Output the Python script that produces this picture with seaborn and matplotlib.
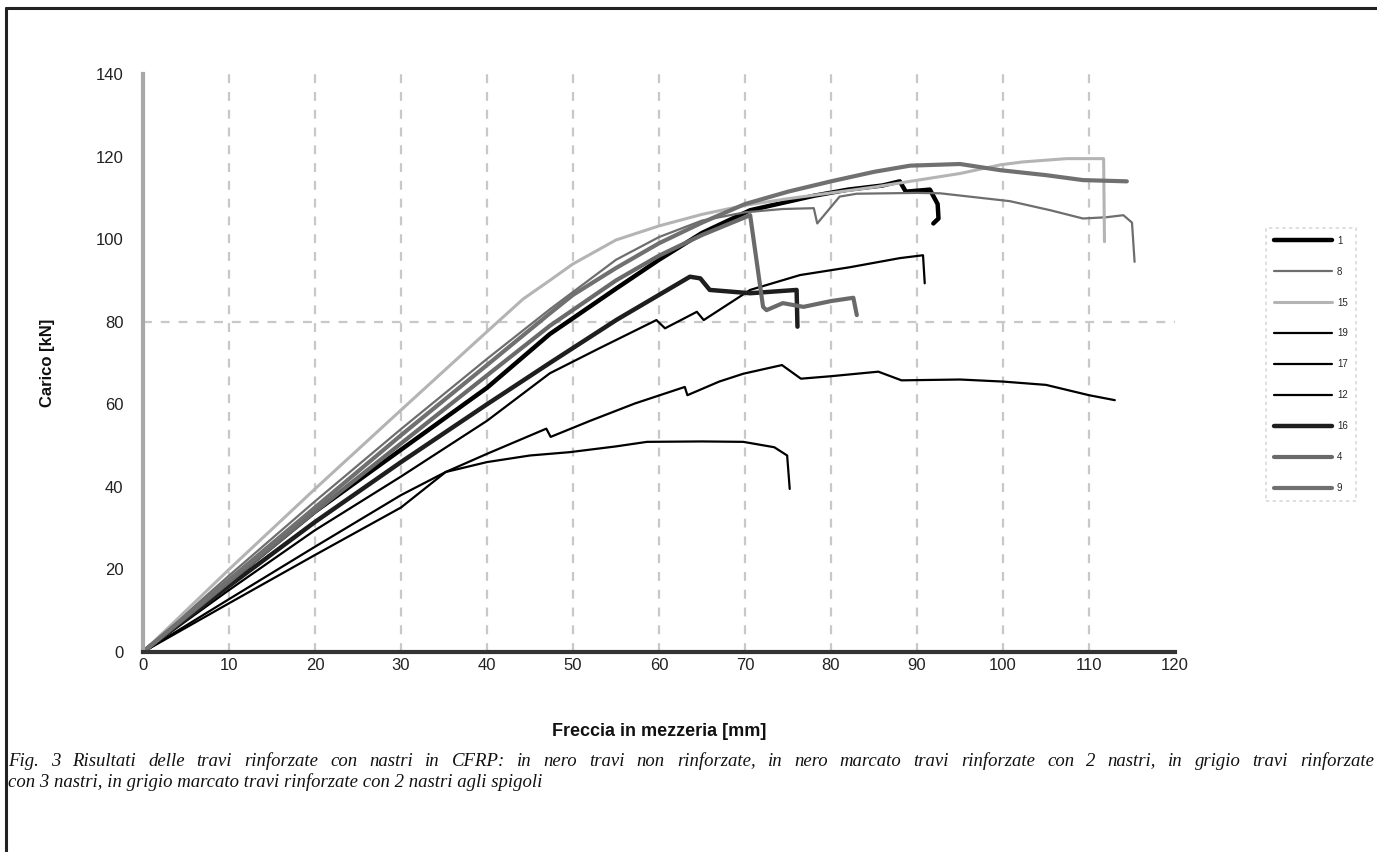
import numpy as np
import pandas as pd
import matplotlib
matplotlib.use("Agg")
import matplotlib.pyplot as plt
from matplotlib.lines import Line2D
import seaborn as sns

# ---- data ----
series_names = ["1", "8", "15", "19", "17", "12", "16", "4", "9"]

x_1 = [0, 10, 20, 30, 40, 47.3, 55, 60, 65, 70.6, 78, 82, 86, 88, 88.7, 91.5, 92.4, 92.5, 91.9]
y_1 = [0, 17, 34, 49, 64, 77, 88, 95, 101.5, 107, 110.5, 112, 113, 114, 111.5, 112, 108.5, 105, 103.8]

x_8 = [0, 10, 20, 30, 40, 47.3, 55, 60, 65, 70, 74.4, 78, 78.4, 81, 83, 90, 92.7, 100.8, 105.5, 109.3, 112, 114, 115, 115.3]
y_8 = [0, 18.5, 36.5, 54, 71, 83, 95, 100.5, 104.5, 106.5, 107.3, 107.5, 103.8, 110.3, 111, 111.2, 111.1, 109.2, 107, 105, 105.3, 105.8, 104, 94.5]

x_15 = [0, 10, 20, 30, 40, 44.2, 47.3, 50, 55, 60, 65, 70, 75, 80, 85, 89.2, 95, 99.7, 102.3, 107.4, 111.7, 111.8]
y_15 = [0, 20, 39.5, 58.6, 77.6, 85.5, 90, 94, 99.8, 103.2, 106, 108.2, 109.8, 111.2, 112.6, 114, 115.9, 118, 118.7, 119.5, 119.5, 99.4]

x_19 = [0, 10, 20, 30, 40, 47.3, 53, 59.7, 60.7, 64.4, 65.2, 70.6, 76.4, 82.2, 88, 90.7, 90.9]
y_19 = [0, 15, 29.5, 42.5, 56, 67.5, 73.5, 80.4, 78.4, 82.4, 80.4, 87.7, 91.3, 93.2, 95.4, 96.1, 89.3]

x_17 = [0, 10, 20, 30, 35.2, 40, 46.9, 47.4, 52, 57.2, 63, 63.3, 67, 69.8, 74.3, 76.5, 80, 85.5, 88.2, 95, 100, 105, 110, 113]
y_17 = [0, 11.8, 23.5, 35, 43.6, 48, 54.1, 52.1, 56, 60.2, 64.2, 62.2, 65.5, 67.4, 69.5, 66.2, 66.8, 67.9, 65.8, 66, 65.5, 64.7, 62.2, 61]

x_12 = [0, 10, 20, 30, 35.2, 40, 45, 49.6, 55, 58.6, 65, 69.8, 73.4, 74.9, 75.2]
y_12 = [0, 12.8, 25.5, 38, 43.6, 46, 47.6, 48.4, 49.8, 50.9, 51, 50.9, 49.6, 47.6, 39.5]

x_16 = [0, 10, 20, 30, 40, 47.3, 55.1, 63.6, 64.8, 65.9, 70.6, 76, 76.1]
y_16 = [0, 16, 31.5, 46, 60, 70, 80.5, 90.9, 90.5, 87.7, 86.9, 87.7, 78.8]

x_4 = [0, 10, 20, 30, 40, 47.3, 55, 60, 65, 70.6, 72.1, 72.5, 74.4, 76.8, 80, 82.6, 83]
y_4 = [0, 17, 34, 50.5, 67, 79, 90, 96, 101, 105.8, 83.6, 82.8, 84.5, 83.6, 85, 85.8, 81.6]

x_9 = [0, 10, 20, 30, 40, 47.3, 50, 55, 60, 65, 70, 75, 80, 85, 89.2, 95, 99.7, 105, 109.3, 114.4]
y_9 = [0, 17.5, 35, 52.5, 69.5, 82, 86.5, 93, 99, 104, 108.5, 111.5, 114, 116.3, 117.8, 118.2, 116.7, 115.5, 114.3, 114]

x_ticks = list(range(0, 121, 10))
y_ticks = list(range(0, 141, 20))

xlabel = "Freccia in mezzeria [mm]"
ylabel = "Carico [kN]"
caption1 = ("Fig. 3 Risultati delle travi rinforzate con nastri in CFRP: in nero travi non rinforzate, "
            "in nero marcato travi rinforzate con 2 nastri, in grigio travi rinforzate")
caption2 = "con 3 nastri, in grigio marcato travi rinforzate con 2 nastri agli spigoli"

xs = [x_1, x_8, x_15, x_19, x_17, x_12, x_16, x_4, x_9]
ys = [y_1, y_8, y_15, y_19, y_17, y_12, y_16, y_4, y_9]

frames = []
for name, xv, yv in zip(series_names, xs, ys):
    frames.append(pd.DataFrame({"x": xv, "y": yv, "serie": name}))
df = pd.concat(frames, ignore_index=True)

palette = {"1": "#000000", "8": "#6e6e6e", "15": "#b4b4b4", "19": "#000000",
           "17": "#000000", "12": "#000000", "16": "#1e1e1e", "4": "#6a6a6a", "9": "#707070"}
sizes = {"1": 3.2, "8": 1.6, "15": 2.2, "19": 1.6, "17": 1.6, "12": 1.6,
         "16": 3.2, "4": 3.0, "9": 3.0}

# ---- figure ----
W, H = 1377, 852
sns.set_theme(style="white")
plt.rcParams['font.family'] = ['Liberation Sans', 'DejaVu Sans']

fig = plt.figure(figsize=(W / 100, H / 100), dpi=100)
ax = fig.add_axes([143 / W, 200 / H, 1032 / W, 578 / H])

sns.lineplot(data=df, x="x", y="y", hue="serie", size="serie",
             hue_order=series_names, size_order=series_names,
             palette=palette, sizes=sizes, estimator=None, sort=False,
             units="serie", ax=ax, legend="full")

ax.set_xlim(0, 120)
ax.set_ylim(0, 140)
ax.set_xticks(x_ticks)
ax.set_yticks(y_ticks)
ax.tick_params(axis="both", labelsize=12, colors="#222222", width=1.2, direction="out")
ax.tick_params(axis="x", color="#cccccc", length=3, pad=1.5)
ax.tick_params(axis="y", color="#888888", length=6, pad=8)

# grid: vertical dashed at every x tick, horizontal only at 80
for xv in x_ticks[1:-1]:
    ax.axvline(xv, color="#c8c8c8", lw=1.6, ls=(0, (4, 4)), zorder=0)
ax.axhline(80, color="#c8c8c8", lw=1.6, ls=(0, (4, 4)), zorder=0)

for s in ["top", "right"]:
    ax.spines[s].set_visible(False)
ax.spines["left"].set_color("#a8a8a8")
ax.spines["left"].set_linewidth(3)
ax.spines["bottom"].set_color("#333333")
ax.spines["bottom"].set_linewidth(3)

ax.set_xlabel(xlabel, fontsize=13, fontweight="bold", color="#111111")
ax.set_ylabel(ylabel, fontsize=12, fontweight="bold", color="#111111")
ax.xaxis.set_label_coords(0.5, (652 - 723) / 578)
ax.yaxis.set_label_coords((55 - 143) / 1032, 0.5)

# legend
leg = ax.legend(loc="upper left", bbox_to_anchor=(1266 / W, 1 - 228 / H),
                bbox_transform=fig.transFigure, frameon=True, fontsize=7,
                handlelength=6.0, labelspacing=2.15, borderpad=0.8,
                handletextpad=0.5, borderaxespad=0, fancybox=False)
leg.get_frame().set_edgecolor("#d0d0d0")
leg.get_frame().set_linestyle((0, (2, 2)))
leg.get_frame().set_linewidth(1.2)
leg.set_title(None)

# caption: first line justified across the full width, second line left-aligned
cap_font = dict(fontsize=13.5, style="italic", family=["Liberation Serif", "DejaVu Serif"],
                va="center", ha="left", color="#111111")
renderer = fig.canvas.get_renderer()
words = caption1.split(" ")
left_px, right_px = 8, 1374
word_texts = [fig.text(0, 1 - 761 / H, w, **cap_font) for w in words]
widths = [t.get_window_extent(renderer=renderer).width for t in word_texts]
gap = (right_px - left_px - sum(widths)) / (len(words) - 1)
pos = left_px
for t, w in zip(word_texts, widths):
    t.set_x(pos / W)
    pos += w + gap
fig.text(left_px / W, 1 - 782 / H, caption2, **cap_font)

# outer frame (left and top)
fig.add_artist(Line2D([6 / W, 6 / W], [0, 1 - 8 / H], transform=fig.transFigure,
                      color="#222222", lw=2.2))
fig.add_artist(Line2D([6 / W, 1], [1 - 8 / H, 1 - 8 / H], transform=fig.transFigure,
                      color="#222222", lw=2.2))

fig.savefig("out.png", dpi=100)
